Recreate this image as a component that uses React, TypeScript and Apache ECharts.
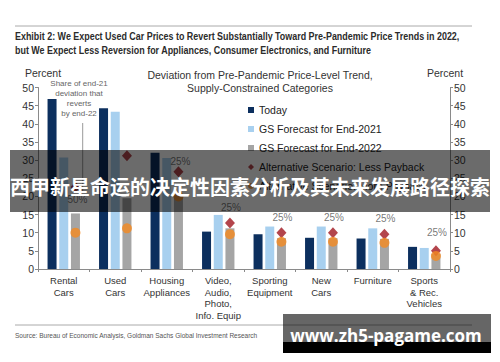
import React, { useEffect, useRef } from "react";
import * as echarts from "echarts";

const categories = [
  "Rental\nCars",
  "Used\nCars",
  "Housing\nAppliances",
  "Video,\nAudio,\nPhoto,\nInfo. Equip",
  "Sporting\nEquipment",
  "New\nCars",
  "Furniture",
  "Sports\n& Rec.\nVehicles",
];
const today = [46.8, 44.3, 32.0, 10.3, 9.6, 8.6, 8.4, 6.1];
const forecast2021 = [30.7, 43.3, 30.6, 14.9, 11.7, 11.7, 11.2, 5.8];
const forecast2022 = [15.3, 19.5, 20.3, 11.2, 8.5, 8.5, 8.3, 4.2];
const lessPayback = [22.6, 31.2, 26.8, 12.7, 10.0, 10.0, 9.6, 5.0];
const morePayback = [10.0, 11.2, 20.0, 9.6, 7.5, 7.5, 7.2, 3.6];
const shareLabels = ["50%", "", "25%", "25%", "25%", "25%", "25%", "25%"];
const labelOffsets: number[][] = [[2, 13], [0, 0], [2, -10], [1, -15], [1, -15], [1, -15], [1, -16], [1, -18]];
const yTicks = { min: 0, max: 50, interval: 5 };

const seriesNames = [
  "Today",
  "GS Forecast for End-2021",
  "GS Forecast for End-2022",
  "Alternative Scenario: Less Payback",
  "Alternative Scenario: More Payback",
];

const TITLE1 = "Exhibit 2: We Expect Used Car Prices to Revert Substantially Toward Pre-Pandemic Price Trends in 2022,";
const TITLE2 = "but We Expect Less Reversion for Appliances, Consumer Electronics, and Furniture";
const SOURCE = "Source: Bureau of Economic Analysis, Goldman Sachs Global Investment Research";

const NAVY = "#0c2f5e";
const LIGHT = "#a8d0ef";
const GREY = "#a5a5a5";
const RED = "#a0171f";
const ORANGE = "#f58a1f";
const FONT = "'Liberation Sans', Arial, sans-serif";

function measure(text: string, font: string): number {
  const c = document.createElement("canvas").getContext("2d");
  if (!c) return text.length * 5;
  c.font = font;
  return c.measureText(text).width;
}

export default function App() {
  const ref = useRef<HTMLDivElement>(null);
  useEffect(() => {
    if (!ref.current) return;
    const chart = echarts.init(ref.current, null, { renderer: "svg" });
    const titleFont = `bold 10px ${FONT}`;
    const titleScale = 445 / measure(TITLE1, titleFont);
    const srcFont = `7px ${FONT}`;
    const srcScale = 243 / measure(SOURCE, srcFont);
    const yAxisCommon = {
      type: "value" as const,
      min: yTicks.min,
      max: yTicks.max,
      interval: yTicks.interval,
      axisLine: { show: true, lineStyle: { color: "#8a8a8a", width: 1 } },
      axisTick: { show: true, length: 3, lineStyle: { color: "#8a8a8a" } },
      axisLabel: { fontSize: 10.5, color: "#333", fontFamily: FONT, margin: 4 },
      splitLine: { show: false },
    };
    const grayOffset = 11.7;
    chart.setOption({
      animation: false,
      backgroundColor: "#fff",
      textStyle: { fontFamily: FONT },
      grid: { left: 38, right: 50, top: 87.5, bottom: 93 },
      legend: {
        orient: "vertical",
        left: 243,
        top: 99,
        itemWidth: 6,
        itemHeight: 6,
        itemGap: 7,
        textStyle: { fontSize: 10.5, color: "#222", fontFamily: FONT, lineHeight: 12 },
        data: [
          { name: seriesNames[0], icon: "rect" },
          { name: seriesNames[1], icon: "rect" },
          { name: seriesNames[2], icon: "rect" },
          { name: seriesNames[3], icon: "diamond" },
          { name: seriesNames[4], icon: "circle" },
        ],
      },
      xAxis: {
        type: "category",
        data: categories,
        axisLine: { lineStyle: { color: "#8a8a8a" } },
        axisTick: { show: true, length: 3, lineStyle: { color: "#8a8a8a" } },
        axisLabel: {
          interval: 0,
          fontSize: 9.5,
          lineHeight: 11.5,
          color: "#333",
          fontFamily: FONT,
          margin: 6,
        },
      },
      yAxis: [
        { ...yAxisCommon, position: "left" },
        { ...yAxisCommon, position: "right" },
      ],
      series: [
        { name: seriesNames[0], type: "bar", data: today, barWidth: 9, barGap: "30%", itemStyle: { color: NAVY } },
        { name: seriesNames[1], type: "bar", data: forecast2021, barWidth: 9, barGap: "30%", itemStyle: { color: LIGHT } },
        { name: seriesNames[2], type: "bar", data: forecast2022, barWidth: 9, barGap: "30%", itemStyle: { color: GREY } },
        {
          name: seriesNames[3],
          type: "scatter",
          symbol: "diamond",
          symbolSize: [10, 11],
          symbolOffset: [grayOffset, 0],
          itemStyle: { color: RED },
          z: 5,
          data: lessPayback.map((v, i) => ({
            value: v,
            label: {
              show: shareLabels[i] !== "",
              formatter: shareLabels[i],
              position: "inside",
              offset: labelOffsets[i],
              fontSize: 10,
              color: "#555",
              fontFamily: FONT,
            },
          })),
        },
        {
          name: seriesNames[4],
          type: "scatter",
          symbol: "circle",
          symbolSize: 10,
          symbolOffset: [grayOffset, 0],
          itemStyle: { color: ORANGE },
          z: 6,
          data: morePayback,
        },
      ],
      graphic: [
        { type: "line", shape: { x1: 15, y1: 26, x2: 472, y2: 26 }, style: { stroke: "#aaa", lineWidth: 1 } },
        {
          type: "text",
          x: 15,
          y: 36,
          scaleX: titleScale,
          style: { text: TITLE1, font: titleFont, fill: "#2b2b2b", verticalAlign: "middle" },
        },
        {
          type: "text",
          x: 15,
          y: 50,
          scaleX: titleScale,
          style: { text: TITLE2, font: titleFont, fill: "#2b2b2b", verticalAlign: "middle" },
        },
        { type: "text", x: 43, y: 73, style: { text: "Percent", font: `10.5px ${FONT}`, fill: "#333", align: "center", verticalAlign: "middle" } },
        { type: "text", x: 445, y: 73, style: { text: "Percent", font: `10.5px ${FONT}`, fill: "#333", align: "center", verticalAlign: "middle" } },
        {
          type: "text",
          x: 260,
          y: 68,
          style: {
            text: "Deviation from Pre-Pandemic Price-Level Trend,\nSupply-Constrained Categories",
            font: `10.5px ${FONT}`,
            fill: "#333",
            align: "center",
            lineHeight: 13,
          },
        },
        {
          type: "text",
          x: 79,
          y: 79,
          style: {
            text: "Share of end-21\ndeviation that\nreverts\nby end-22",
            font: `8px ${FONT}`,
            fill: "#666",
            align: "center",
            lineHeight: 9.8,
          },
        },
        { type: "line", shape: { x1: 82.7, y1: 123, x2: 82.7, y2: 192 }, style: { stroke: "#999", lineWidth: 1 } },
        { type: "line", shape: { x1: 15, y1: 325, x2: 472, y2: 325 }, style: { stroke: "#aaa", lineWidth: 1 } },
        {
          type: "text",
          x: 15,
          y: 335,
          scaleX: srcScale,
          style: { text: SOURCE, font: srcFont, fill: "#555", verticalAlign: "middle" },
        },
        { type: "rect", shape: { x: 10, y: 150, width: 480, height: 62 }, style: { fill: "rgba(0,0,0,0.58)" }, z: 100 },
        {
          type: "text",
          x: 250,
          y: 186,
          z: 101,
          style: {
            text: "西甲新星命运的决定性因素分析及其未来发展路径探索",
            font: `bold 20px 'Noto Sans CJK SC', sans-serif`,
            fill: "#fff",
            align: "center",
            verticalAlign: "middle",
          },
        },
        { type: "rect", shape: { x: 283, y: 314, width: 208, height: 28 }, style: { fill: "rgba(0,0,0,0.6)" }, z: 100 },
        { type: "rect", shape: { x: 283, y: 342, width: 208, height: 11 }, style: { fill: "#000" }, z: 100 },
        {
          type: "text",
          x: 386,
          y: 335,
          z: 101,
          style: {
            text: "www.zh5-pagame.com",
            font: `bold 17px 'Open Sans', sans-serif`,
            fill: "#fff",
            align: "center",
            verticalAlign: "middle",
          },
        },
      ],
    });
    return () => chart.dispose();
  }, []);
  return <div ref={ref} style={{ width: 500, height: 362, position: "absolute", left: 0, top: 0 }} />;
}
